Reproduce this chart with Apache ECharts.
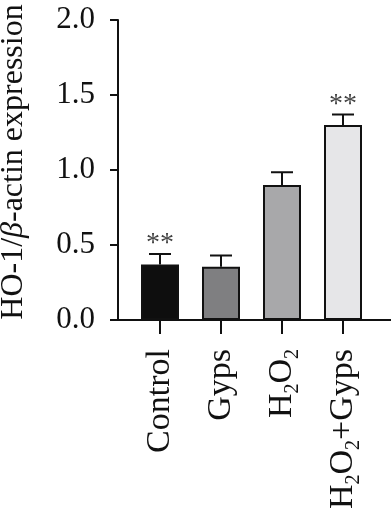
<!DOCTYPE html>
<html><head><meta charset="utf-8">
<script src="https://cdn.jsdelivr.net/npm/echarts@6/dist/echarts.min.js"></script>
<style>html,body{margin:0;padding:0;background:#fff}#c{width:391px;height:511px}</style>
</head><body><div id="c"></div>
<script>
var categories = ['Control', 'Gyps', 'H2O2', 'H2O2+Gyps'];
var values = [0.37, 0.355, 0.90, 1.30];
var errors = [0.07, 0.075, 0.085, 0.07];
var significance = ['**', '', '', '**'];
var barColors = ['#0e0e0e', '#7f7f81', '#a8a8aa', '#e6e6e8'];
var yTicks = [0, 0.5, 1.0, 1.5, 2.0];

var FONT = 'Liberation Serif';
var chart = echarts.init(document.getElementById('c'));

var errData = values.map(function (v, i) { return [i, v, errors[i], significance[i]]; });

chart.setOption({
  animation: false,
  grid: [
    { left: 118, right: 0, top: 20, bottom: 191, containLabel: false, outerBoundsMode: 'none' },
    { left: 129.5, width: 244, top: 20, bottom: 191, containLabel: false, outerBoundsMode: 'none' }
  ],
  xAxis: [
    { gridIndex: 0, type: 'value', min: 0, max: 1,
      axisLine: { show: true, lineStyle: { color: '#111', width: 2 } },
      axisTick: { show: false }, axisLabel: { show: false }, splitLine: { show: false } },
    { gridIndex: 1, type: 'category', data: categories,
      axisLine: { show: false },
      axisTick: { show: true, alignWithLabel: true, length: 14, lineStyle: { color: '#111', width: 2 } },
      axisLabel: {
        rotate: 90, margin: 29, color: '#111', fontFamily: FONT, fontSize: 34, lineHeight: 42,
        formatter: function (v) { return v.replace(/2/g, '{s|2}'); },
        rich: { s: { fontFamily: FONT, fontSize: 20, lineHeight: 20, verticalAlign: 'bottom', color: '#111' } }
      } }
  ],
  yAxis: [
    { gridIndex: 0, type: 'value', min: yTicks[0], max: yTicks[yTicks.length - 1], interval: yTicks[1] - yTicks[0],
      axisLine: { show: true, lineStyle: { color: '#111', width: 2 } },
      axisTick: { show: true, length: 8, lineStyle: { color: '#111', width: 2 } },
      axisLabel: { margin: 23, color: '#111', fontFamily: FONT, fontSize: 31,
        formatter: function (v) { return v.toFixed(1); } },
      splitLine: { show: false },
      name: '{n|HO-1/}{b|β}{n|-actin expression}',
      nameLocation: 'middle', nameGap: 88,
      nameTextStyle: {
        padding: [0, 0, 0, 16],
        rich: {
          n: { fontFamily: FONT, fontSize: 32, color: '#111' },
          b: { fontFamily: FONT, fontSize: 32, fontStyle: 'italic', color: '#111' }
        }
      } },
    { gridIndex: 1, type: 'value', min: 0, max: 2, show: false }
  ],
  series: [
    { type: 'bar', xAxisIndex: 1, yAxisIndex: 1, barWidth: 38,
      data: values.map(function (v, i) {
        return { value: v, itemStyle: { color: barColors[i], borderColor: '#111', borderWidth: 2 } };
      }) },
    { type: 'custom', xAxisIndex: 1, yAxisIndex: 1, z: 5,
      data: errData,
      renderItem: function (params, api) {
        var i = api.value(0), v = api.value(1), e = api.value(2);
        var sig = errData[params.dataIndex][3];
        var p0 = api.coord([i, v]);
        var p1 = api.coord([i, v + e]);
        var hw = 11;
        var children = [
          { type: 'line', shape: { x1: p0[0], y1: p0[1], x2: p1[0], y2: p1[1] }, style: { stroke: '#111', lineWidth: 2 } },
          { type: 'line', shape: { x1: p1[0] - hw, y1: p1[1], x2: p1[0] + hw, y2: p1[1] }, style: { stroke: '#111', lineWidth: 2 } }
        ];
        if (sig) {
          children.push({ type: 'text', style: { text: sig, x: p1[0], y: p1[1] - 10,
            align: 'center', verticalAlign: 'middle', fontFamily: FONT, fontSize: 28, fill: '#444' } });
        }
        return { type: 'group', children: children };
      } }
  ]
});
</script></body></html>
